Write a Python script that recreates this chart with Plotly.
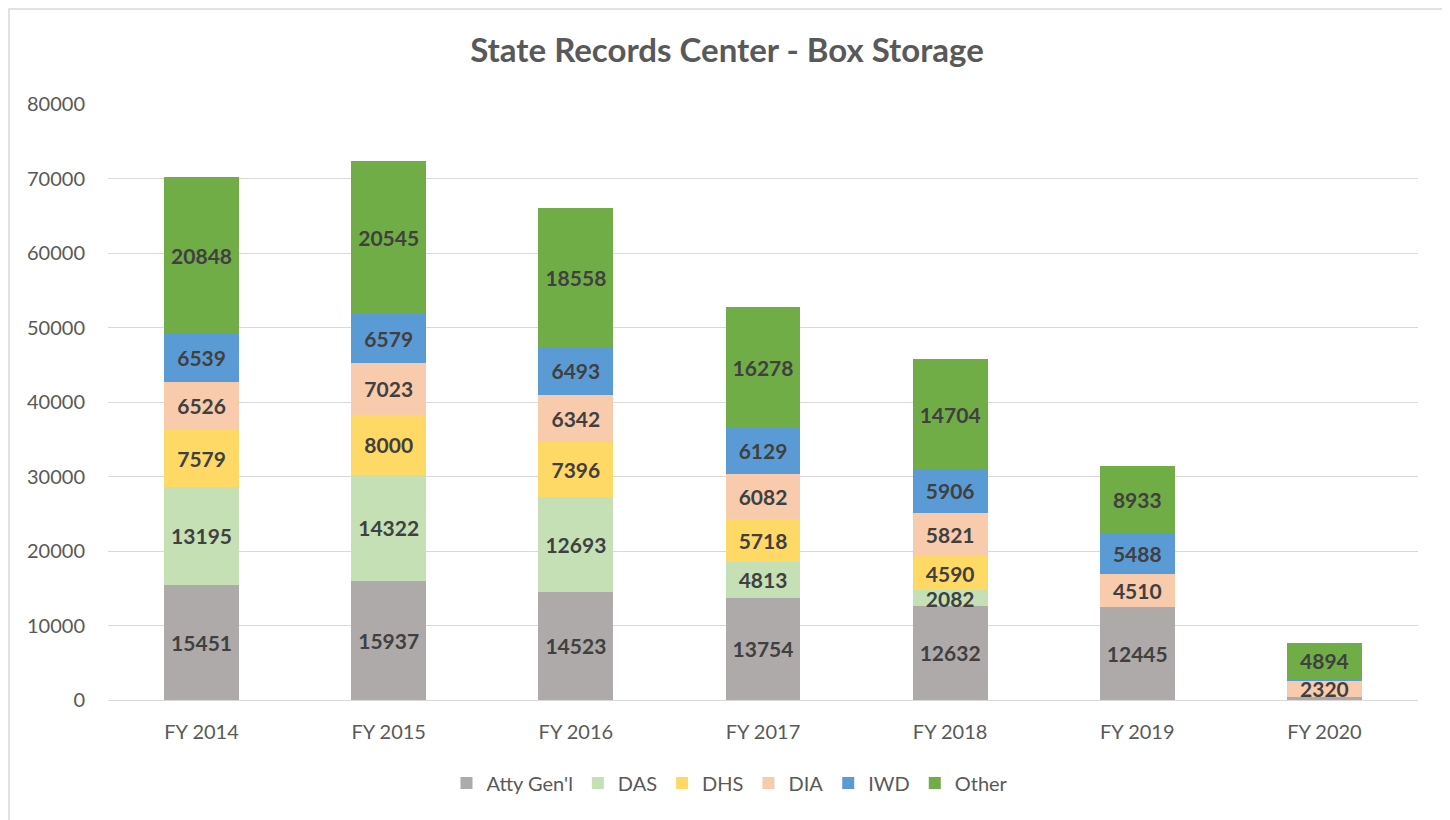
import plotly.graph_objects as go

years = ["FY 2014", "FY 2015", "FY 2016", "FY 2017", "FY 2018", "FY 2019", "FY 2020"]
atty = [15451, 15937, 14523, 13754, 12632, 12445, 350]
das = [13195, 14322, 12693, 4813, 2082, 0, 0]
dhs = [7579, 8000, 7396, 5718, 4590, 0, 0]
dia = [6526, 7023, 6342, 6082, 5821, 4510, 2320]
iwd = [6539, 6579, 6493, 6129, 5906, 5488, 150]
other = [20848, 20545, 18558, 16278, 14704, 8933, 4894]

series = [
    ("Atty Gen'l", atty, "#AEAAAA"),
    ("DAS", das, "#C5E0B4"),
    ("DHS", dhs, "#FFD966"),
    ("DIA", dia, "#F8CBAD"),
    ("IWD", iwd, "#5B9BD5"),
    ("Other", other, "#70AD47"),
]

FONT = "Lato, 'Open Sans', sans-serif"

fig = go.Figure()
for name, vals, color in series:
    fig.add_trace(go.Bar(
        name=name, x=years, y=vals, marker=dict(color=color, line=dict(width=0)),
        text=[str(v) if v >= 1000 else "" for v in vals],
        texttemplate="<b>%{text}</b>",
        textposition="inside", insidetextanchor="middle", textangle=0,
        constraintext="none",
        textfont=dict(family=FONT, size=21, color="#404040"),
        hoverinfo="x+y+name",
    ))

# page body has an 8px margin; figure is 1442x812 so the plot lands at the reference pixels
W, H = 1442, 812
L, T, B, R = 100, 96, 120, 32
PW, PH = W - L - R, H - T - B

fig.update_layout(
    barmode="stack",
    bargap=0.6,
    width=W, height=H,
    margin=dict(l=L, r=R, t=T, b=B),
    paper_bgcolor="white", plot_bgcolor="white",
    font=dict(family=FONT, color="#595959"),
    title=dict(text="<b>State Records Center - Box Storage</b>", x=(727 - 8) / W, xanchor="center",
               y=1 - 42 / H, yanchor="middle", yref="container",
               font=dict(family=FONT, size=33, color="#595959")),
    legend=dict(orientation="h", x=(730 - 8 - L) / PW, xanchor="center",
                y=(692 - 775) / PH, yanchor="middle",
                font=dict(family=FONT, size=20, color="#595959"), traceorder="normal",
                itemwidth=30),
    yaxis=dict(range=[0, 80000], dtick=10000, gridcolor="#D9D9D9", gridwidth=1,
               tickfont=dict(family=FONT, size=20, color="#595959"), ticks="",
               showline=False, zeroline=False, tickformat="d", ticklabelstandoff=22),
    xaxis=dict(tickfont=dict(family=FONT, size=20, color="#595959"), showline=True,
               linecolor="#D9D9D9", linewidth=1, ticks="", ticklabelstandoff=14),
    shapes=[dict(type="rect", xref="paper", yref="paper",
                 x0=(1 - L) / PW, x1=(W - 4 - L) / PW,
                 y0=(PH + T - H - 20) / PH, y1=(PH + T - 1) / PH,
                 line=dict(color="#D9D9D9", width=1.5), fillcolor="rgba(0,0,0,0)", layer="below")],
)

fig.write_html("out.html")
